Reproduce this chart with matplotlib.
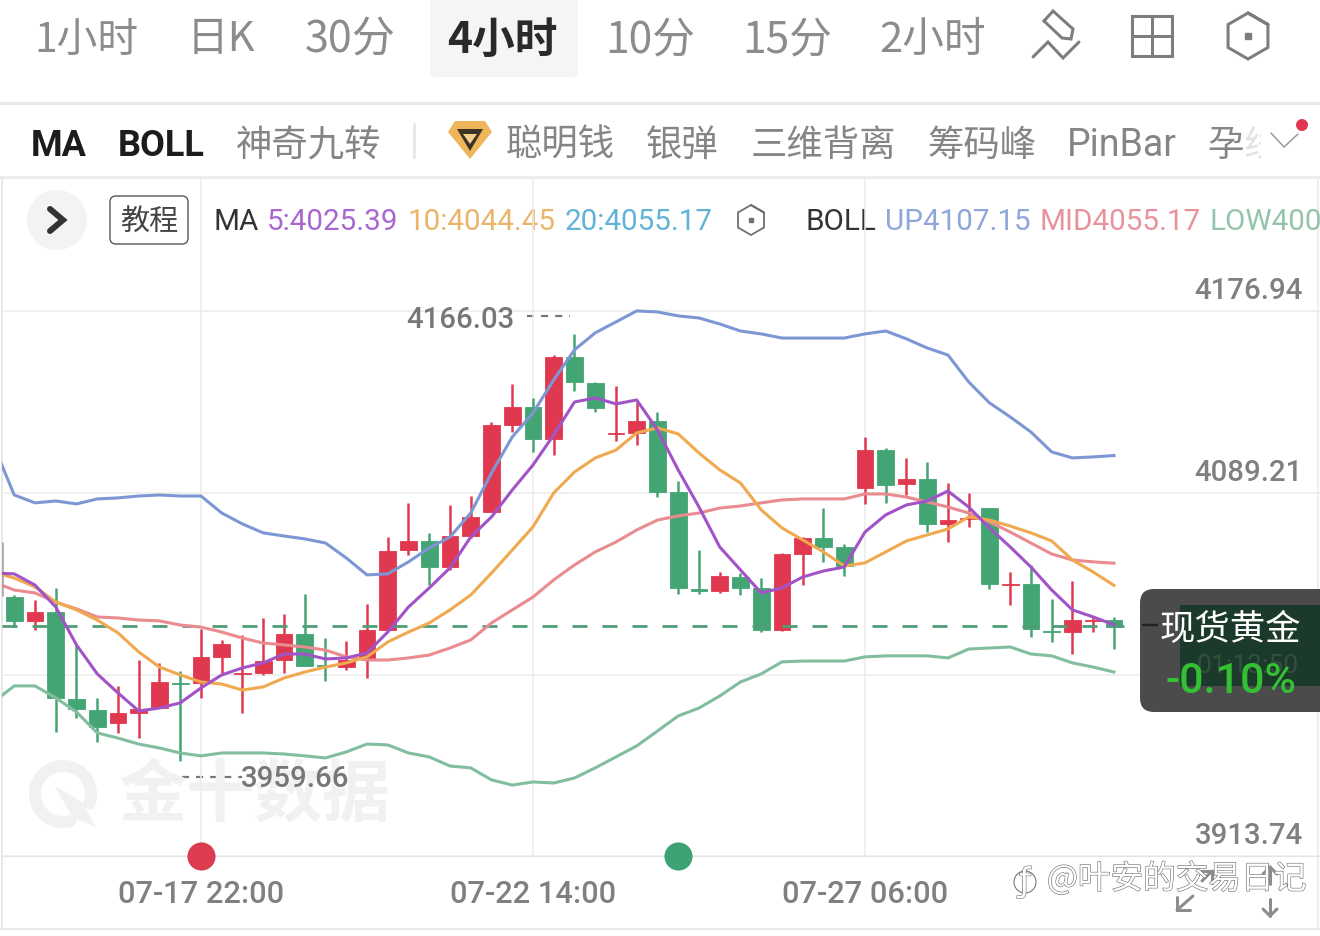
import numpy as np
import matplotlib
matplotlib.use("Agg")
import matplotlib.pyplot as plt
from matplotlib.patches import FancyBboxPatch, Circle, Rectangle, Polygon
import matplotlib.patheffects as pe

CJK = ['Noto Sans CJK SC', 'DejaVu Sans']
NUM = ['Roboto', 'DejaVu Sans']
plt.rcParams['font.family'] = CJK

# ---------- data (prices) ----------
opens = [4038.8,4027.3,4031.6,3989.6,3984.3,3978.0,3982.8,3985.2,3997.3,3997.3,4009.9,4001.7,4002.1,4008.4,4021.0,4006.0,4005.0,4009.4,
         4022.9,4061.5,4065.9,4053.3,4068.3,4079.9,4121.9,4130.6,4115.2,4154.8,4142.2,4117.6,4118.1,4123.9,4089.6,4042.7,4041.7,4048.5,
         4043.2,4022.9,4059.6,4067.3,4063.0,4091.5,4109.8,4093.4,4095.8,4074.1,4076.5,4081.8,4044.6,4045.1,4022.4,4021.9,4027.3,4027.7]
closes = [4027.3,4031.6,3990.1,3984.7,3976.1,3982.8,3984.7,3997.8,3996.8,4009.9,4016.1,4002.1,4007.9,4021.0,4005.5,4005.5,4008.4,4022.9,
          4061.1,4065.9,4053.3,4068.3,4077.5,4121.9,4130.6,4115.2,4154.8,4142.7,4130.1,4118.1,4123.9,4089.6,4043.2,4041.7,4049.0,4043.2,
          4022.9,4059.6,4067.3,4063.0,4053.8,4109.8,4092.9,4095.8,4074.1,4076.0,4077.0,4045.1,4045.1,4023.4,4021.9,4027.7,4027.7,4024.4]
highs = [4039.8,4037.4,4043.2,4015.7,3990.1,3995.9,4008.4,4007.0,4003.1,4023.4,4018.1,4020.5,4028.7,4030.6,4040.3,4019.0,4017.6,4035.5,
         4067.8,4084.3,4069.8,4083.3,4087.6,4123.4,4141.7,4135.0,4155.7,4166.03,4142.7,4140.8,4133.0,4128.2,4094.9,4061.5,4050.9,4050.4,
         4048.0,4060.1,4067.8,4081.8,4064.4,4116.1,4110.8,4106.0,4104.1,4093.9,4089.1,4081.8,4050.9,4054.3,4037.9,4046.6,4029.2,4029.2]
lows = [4024.3,4022.9,3973.6,3980.4,3968.8,3973.2,3970.7,3985.2,3959.66,3990.1,4002.1,3982.8,4001.2,4002.1,4005.5,3998.3,4003.6,3999.7,
        4022.9,4059.1,4044.6,4051.9,4067.3,4079.9,4118.5,4108.9,4107.4,4138.3,4128.2,4114.2,4112.3,4087.1,4040.3,4040.3,4040.8,4039.8,
        4021.9,4022.4,4044.6,4055.8,4049.0,4083.8,4084.3,4088.1,4070.2,4065.4,4072.7,4042.7,4035.0,4019.5,4017.1,4011.3,4021.9,4013.7]
# the first value of each line belongs to the bar just off the left edge
ma5 = [4050.4,4050.0,4044.6,4034.0,4015.7,4001.7,3992.5,3983.8,3985.2,3987.7,3994.9,4001.2,4004.6,4007.0,4011.3,4011.3,4008.9,4009.4,4011.8,
       4021.9,4034.0,4043.2,4052.9,4067.8,4077.5,4090.5,4102.6,4117.1,4133.0,4135.0,4132.1,4134.0,4119.5,4100.2,4082.3,4063.0,4051.9,4040.8,
       4043.2,4048.5,4051.4,4053.3,4070.2,4078.5,4083.3,4085.2,4090.0,4082.3,4072.2,4063.0,4053.3,4042.2,4032.6,4029.2,4025.39]
ma10 = [4050.9,4048.0,4043.7,4036.4,4032.6,4027.7,4021.5,4012.3,4005.0,4001.2,3997.8,3996.8,3993.9,3995.4,3999.7,4002.6,4005.0,4007.0,4009.9,
        4017.1,4021.9,4026.3,4032.6,4039.8,4050.4,4061.5,4072.7,4089.1,4099.2,4106.0,4109.8,4118.1,4120.5,4117.6,4108.4,4100.2,4093.9,4080.9,
        4072.2,4066.4,4060.6,4053.8,4055.3,4060.6,4065.9,4068.8,4071.7,4077.5,4076.0,4073.1,4069.8,4065.9,4056.7,4050.9,4044.45]
boll_mid = [4046.1,4042.2,4040.8,4036.4,4033.1,4029.2,4028.7,4027.7,4027.3,4025.3,4024.3,4021.9,4019.0,4016.6,4015.7,4014.7,4013.2,4009.9,4008.4,
            4008.4,4009.4,4010.8,4014.2,4018.1,4026.3,4032.6,4038.8,4047.1,4054.3,4060.6,4065.4,4071.2,4076.0,4078.0,4079.4,4081.8,4082.8,4084.3,
            4085.7,4086.2,4086.2,4086.2,4088.6,4088.6,4087.1,4084.7,4082.3,4079.4,4075.1,4070.2,4064.9,4059.6,4056.7,4055.8,4055.17]
boll_up = [4112.3,4088.1,4084.3,4085.2,4083.8,4086.2,4086.7,4087.6,4088.1,4087.6,4087.6,4079.4,4074.1,4069.8,4068.3,4066.9,4064.9,4057.7,4049.5,
           4050.0,4055.8,4062.5,4067.8,4079.4,4098.7,4116.1,4127.7,4143.7,4158.2,4166.4,4171.7,4177.0,4176.5,4174.6,4173.6,4170.7,4167.3,4165.9,
           4163.9,4163.9,4163.9,4163.9,4165.9,4167.3,4163.5,4159.1,4155.7,4142.7,4132.6,4125.8,4118.5,4108.9,4106.0,4106.5,4107.15]
boll_low = [3988.1,3995.9,3995.9,3990.1,3983.3,3973.2,3970.7,3967.8,3965.9,3963.5,3962.1,3963.5,3963.5,3963.5,3963.0,3962.1,3961.1,3964.0,3967.8,
            3967.4,3963.5,3961.6,3957.2,3956.3,3950.5,3948.0,3949.5,3949.0,3951.4,3956.3,3961.6,3966.9,3974.1,3981.4,3985.2,3991.0,3997.8,4001.7,
            4007.5,4007.9,4007.9,4007.9,4009.9,4010.4,4010.4,4010.4,4009.4,4013.7,4014.2,4014.7,4011.3,4010.4,4007.0,4005.0,4002.6]
last_price = 4024.8
y_ticks = [3913.74, 4001.2, 4089.21, 4176.94]
y_tick_labels = ['3913.74', '', '4089.21', '4176.94']
x_ticks = [9, 25, 41]
x_tick_labels = ['07-17 22:00', '07-22 14:00', '07-27 06:00']
high_label, low_label = '4166.03', '3959.66'
signal_red_bar, signal_green_bar = 9, 32
tabs = [('1小时', 34, 29.3), ('日K', 187, 30), ('30分', 305, 31), ('10分', 605, 30.7), ('15分', 742, 30.7), ('2小时', 879, 30)]
tools = [('神奇九转', 236), ('聪明钱', 506), ('银弹', 646), ('三维背离', 751), ('筹码峰', 927), ('孕', 1207)]
legend_items = [('MA', 212, '#333333'), ('5:4025.39', 266, '#a967cf'), ('10:4044.45', 406, '#eab56a'), ('20:4055.17', 564, '#62b4d6'),
                ('BOLL', 805, '#333333'), ('UP4107.15', 884, '#8ea6da'), ('MID4055.17', 1039, '#e8939b'), ('LOW400', 1208, '#93c4aa')]

RED, GREEN = '#e0394f', '#44a574'
GRAY = '#808080'

# ---------- layers ----------
W, H = 1320, 937
fig = plt.figure(figsize=(W / 100, H / 100), dpi=100, facecolor='white')

def pixel_axes(z):
    a = fig.add_axes([0, 0, 1, 1], zorder=z)
    a.set_xlim(0, W); a.set_ylim(H, 0); a.axis('off'); a.patch.set_alpha(0)
    return a

bg = pixel_axes(0)
fg = pixel_axes(2)

def T(a, x, y, s, size=21, color=GRAY, ha='left', va='center', fam=CJK, weight='normal', **k):
    return a.text(x, y, s, fontsize=size, color=color, ha=ha, va=va, family=fam, fontweight=weight, **k)

def L(a, xs, ys, c=GRAY, lw=2.4, **k):
    a.plot(xs, ys, color=c, lw=lw * 0.72, solid_capstyle='round', solid_joinstyle='miter', **k)

def hexagon(a, cx, cy, r, c, lw):
    ang = np.deg2rad(np.arange(-90, 360, 60))
    L(a, cx + r * np.cos(ang), cy + r * np.sin(ang), c, lw)
    a.add_patch(Rectangle((cx - r * .12, cy - r * .12), r * .24, r * .24, color=c))

# ---------- top chrome ----------
bg.add_patch(FancyBboxPatch((430, -10), 148, 88, boxstyle='round,pad=0,rounding_size=6', fc='#f5f5f5', ec='none'))
for s, x, sz in tabs:
    T(bg, x, 40, s, size=sz, color='#8c8c8c')
T(bg, 447, 40, '4小时', size=30.7, color='#2a2a2a', weight='bold')
L(bg, [1044, 1053, 1073, 1071, 1062, 1044], [22, 12, 30, 40, 39, 22], '#7d7d7d', 3)
L(bg, [1033, 1048, 1063, 1079], [58, 43, 59, 43], '#7d7d7d', 3)
bg.add_patch(Rectangle((1132, 17), 40, 40, fc='none', ec='#7d7d7d', lw=2.2))
L(bg, [1152, 1152], [17, 57], '#7d7d7d', 3); L(bg, [1132, 1172], [37, 37], '#7d7d7d', 3)
hexagon(bg, 1248, 37, 23, '#7d7d7d', 3)
L(bg, [0, W], [104, 104], '#e9e9e9', 3)

T(bg, 31, 146, 'MA', size=26, color='#1c1c1c', fam=NUM, weight='bold')
T(bg, 118, 146, 'BOLL', size=26, color='#1c1c1c', fam=NUM, weight='bold')
for s, x in tools:
    T(bg, x, 146, s, size=26.2, color='#858585')
T(bg, 1067, 146, 'PinBar', size=27, color='#858585', fam=NUM)
T(bg, 1243, 146, '线', size=26, color='#e2e2e2')
bg.add_patch(Rectangle((1261, 120), 50, 45, fc='white', ec='none', zorder=3))
L(bg, [414, 414], [125, 158], '#e8e8e8', 3)
bg.add_patch(Polygon([(448, 133), (455, 122), (485, 122), (492, 133), (470, 160)], fc='#eeb55b', ec='none'))
bg.add_patch(Polygon([(457, 130), (483, 130), (470, 152)], fc='#3d3226', ec='none'))
bg.add_patch(Polygon([(463, 135), (477, 135), (470, 145)], fc='#f4cf8c', ec='none'))
L(bg, [1271, 1284, 1298], [134, 148, 135], '#9a9a9a', 1.5, zorder=4)
bg.add_patch(Circle((1302, 126), 6, fc=RED, ec='none', zorder=4))
L(bg, [0, W], [178, 178], '#ececec', 3)

bg.add_patch(Circle((57, 221), 30, fc='#f3f3f3', ec='none'))
L(bg, [50, 63, 50], [210, 221, 232], '#333333', 6)
bg.add_patch(FancyBboxPatch((110, 197), 78, 48, boxstyle='round,pad=0,rounding_size=6', fc='white', ec='#555555', lw=1))
T(bg, 149, 222, '教程', size=21, color='#444444', ha='center')
for s, x, c in legend_items:
    T(bg, x + 1, 222, s, size=21.3, color=c, fam=NUM)
hexagon(bg, 751, 221, 15, '#707070', 1.8)

# watermark under the chart
wm = '#f1f1f1'
arc = np.deg2rad(np.linspace(75, 380, 60))
L(bg, 63 + 28 * np.cos(arc), 795 + 28 * np.sin(arc), wm, 12)
bg.add_patch(Polygon([(55, 787), (82, 803), (96, 828), (72, 818)], fc=wm, ec='none'))
T(bg, 119, 797, '金十数据', size=49, color=wm, weight='bold')

# borders
L(bg, [1.5, 1.5], [178, 930], '#e8e8e8', 2)
L(bg, [1318, 1318], [178, 930], '#eeeeee', 2)
L(bg, [0, W], [930, 930], '#e8e8e8', 2)
L(bg, [2.5, 2.5], [544, 597], '#9a9a9a', 1.5)

# ---------- chart ----------
ax = fig.add_axes([2 / W, (H - 857) / H, (W - 2) / W, (857 - 179) / H], zorder=1)
ax.patch.set_alpha(0)
ax.set_xlim(-0.59, 62.93)
ax.set_ylim(3913.74, 4241.2)
ax.set_axisbelow(True)

idx = np.arange(len(opens))
line_idx = np.arange(-1, len(opens))
ups = np.array(closes) >= np.array(opens)
cols = [RED if u else GREEN for u in ups]
o, c = np.array(opens), np.array(closes)
ax.vlines(idx, lows, highs, colors=cols, lw=1.8, zorder=2)
ax.bar(idx, np.abs(c - o), bottom=np.minimum(o, c), width=0.8, color=cols, edgecolor=cols, lw=0.6, zorder=3)

ax.axhline(last_price, xmax=(53.5 + .59) / 63.52, color='#4f9d78', lw=2.0, dashes=(5.4, 5.4), zorder=4)
for vals, col in [(boll_up, '#7d97d4'), (boll_low, '#82bd9e'), (boll_mid, '#e98b8f'), (ma10, '#f0a94e'), (ma5, '#a253c8')]:
    ax.plot(line_idx, vals, color=col, lw=2.2, zorder=5, solid_joinstyle='round')

ax.scatter([signal_red_bar], [3913.74], s=410, color='#dc3c50', clip_on=False, zorder=6, linewidths=0)
ax.scatter([signal_green_bar], [3913.74], s=410, color='#3ea374', clip_on=False, zorder=6, linewidths=0)

ax.set_xticks(x_ticks, x_tick_labels)
ax.set_yticks(y_ticks, y_tick_labels)
ax.yaxis.tick_right()
ax.grid(True, color='#ececec', lw=1.1)
ax.tick_params(axis='both', length=0)
ax.tick_params(axis='x', pad=16.5, labelsize=22.2, labelcolor=GRAY)
ax.tick_params(axis='y', pad=-12.5, labelsize=21.2, labelcolor=GRAY)
for lb in ax.get_xticklabels():
    lb.set_family(NUM); lb.set_fontweight('medium')
for lb in ax.get_yticklabels():
    lb.set_family(NUM); lb.set_ha('right'); lb.set_va('bottom'); lb.set_fontweight('medium')
    lb.set_transform(lb.get_transform() + matplotlib.transforms.ScaledTranslation(0, 5 / 72, fig.dpi_scale_trans))
for sp in ['top', 'left', 'right']:
    ax.spines[sp].set_visible(False)
ax.spines['bottom'].set_color('#e4e4e4')

# high / low labels with their leader dashes
ax.annotate(high_label, xy=(27, 4166.03), xytext=(-121, 10.5), textcoords='offset points',
            fontsize=21.2, color='#777777', family=NUM, va='center', ha='left', fontweight='medium')
L(bg, [527, 570], [317, 317], '#777777', 2.2, linestyle=(0, (3.2, 3.2)))
ax.annotate(low_label, xy=(8, 3959.66), xytext=(44, -12), textcoords='offset points',
            fontsize=21.2, color='#777777', family=NUM, va='center', ha='left', fontweight='medium')
L(bg, [182, 242], [778, 778], '#777777', 2.2, linestyle=(0, (3.2, 3.2)))

# ---------- tooltip ----------
fg.add_patch(FancyBboxPatch((1140, 590), 200, 123, boxstyle='round,pad=0,rounding_size=14', fc='#4b4b4b', ec='none'))
fg.add_patch(Rectangle((1180, 606), 140, 81, fc='#1c3a2b', ec='none'))
L(fg, [1143, 1157], [626, 626], '#222222', 2.5)
T(fg, 1248, 666, '01:13:50', size=19, color='#33503f', ha='center', fam=NUM)
T(fg, 1230, 630, '现货黄金', size=25.5, color='white', ha='center', weight='medium')
T(fg, 1231, 682, '-0.10%', size=31, color='#33c033', ha='center', fam=NUM, weight='medium')

# ---------- bottom-right stamp and icons ----------
GI = '#8c8c8c'
L(fg, [1177, 1193], [911, 897], GI, 3); L(fg, [1177, 1177, 1190], [898, 911, 911], GI, 3)
L(fg, [1202, 1212], [882, 872], GI, 3); L(fg, [1201, 1212, 1212], [872, 872, 884], GI, 3)
L(fg, [1270, 1270], [868, 885], GI, 3); L(fg, [1263, 1270, 1277], [875, 868, 875], GI, 3)
L(fg, [1270, 1270], [900, 917], GI, 3); L(fg, [1263, 1270, 1277], [910, 917, 910], GI, 3)
stroke = [pe.Stroke(linewidth=0.8, foreground='#666666'), pe.Normal()]
T(fg, 1047, 880, '@叶安的交易日记', size=23.5, color='white', path_effects=stroke)
T(fg, 1025, 883, 'ƒ', size=24, color='white', ha='center', fam=['DejaVu Sans'], path_effects=stroke)
fg.add_patch(Circle((1025, 883), 11, fc='none', ec='#777777', lw=0.8))

fig.savefig('out.png', dpi=100)
